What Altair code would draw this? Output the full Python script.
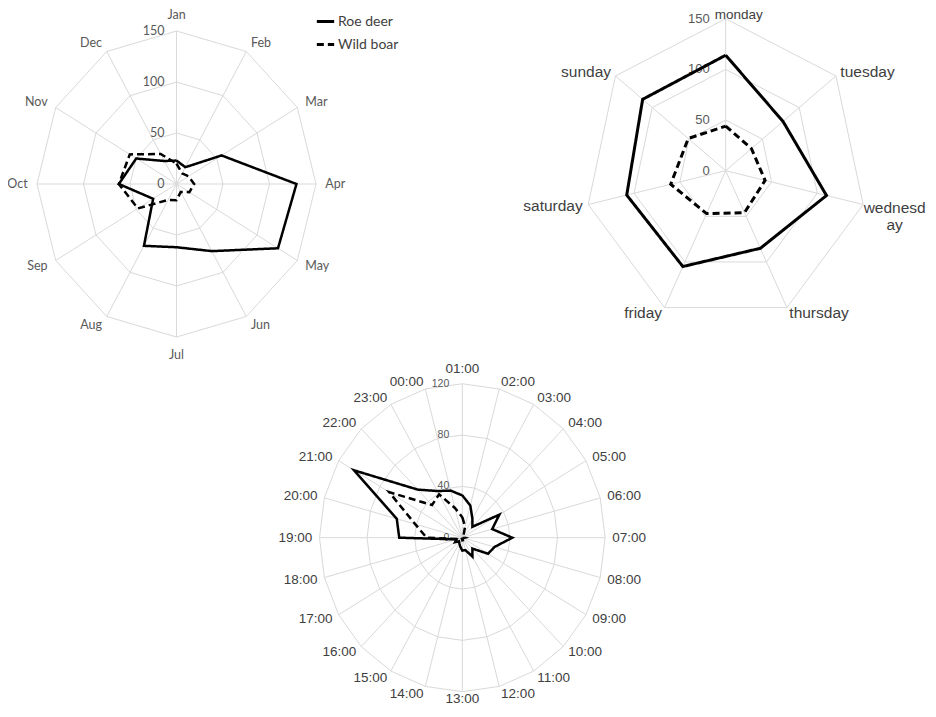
import altair as alt
import pandas as pd

# ---------------- data ----------------
SERIES = ["Roe deer", "Wild boar"]

MONTHS = ["Jan", "Feb", "Mar", "Apr", "May", "Jun", "Jul", "Aug", "Sep", "Oct", "Nov", "Dec"]
MONTH_ROE = [23, 19, 56, 129, 126, 76, 62, 70, 29, 62, 50, 26]
MONTH_BOAR = [20, 12, 15, 19, 16, 9, 16, 18, 48, 62, 58, 34]
MONTH_TICKS = [0, 50, 100, 150]

DAYS = ["monday", "tuesday", "wednesd\nay", "thursday", "friday", "saturday", "sunday"]
DAY_ROE = [114, 78, 110, 85, 105, 108, 113]
DAY_BOAR = [44, 35, 43, 46, 47, 60, 51]
DAY_TICKS = [0, 50, 100, 150]

HOURS = ["01:00", "02:00", "03:00", "04:00", "05:00", "06:00", "07:00", "08:00",
         "09:00", "10:00", "11:00", "12:00", "13:00", "14:00", "15:00", "16:00",
         "17:00", "18:00", "19:00", "20:00", "21:00", "22:00", "23:00", "00:00"]
HOUR_ROE = [33, 26, 17, 12, 36, 26, 42, 28, 25, 12, 17, 10,
            10, 7, 5, 4, 7, 5, 53, 57, 105, 53, 42, 38]
HOUR_BOAR = [16, 9, 2, 1, 1, 1, 2, 1, 1, 1, 1, 2,
             2, 1, 1, 2, 3, 4, 30, 41, 71, 36, 39, 24]
HOUR_TICKS = [0, 40, 80, 120]

# ---------------- helpers ----------------
W, H = 920, 701
XS = alt.Scale(domain=[8, 8 + W], nice=False, zero=False)
YS = alt.Scale(domain=[8, 8 + H], nice=False, zero=False, reverse=True)


def X(f):
    return alt.X(f"{f}:Q", scale=XS, axis=None)


def Y(f):
    return alt.Y(f"{f}:Q", scale=YS, axis=None)


LEGEND = alt.Legend(
    title=None, orient="none", legendX=307, legendY=3,
    symbolType="stroke", symbolSize=300, symbolStrokeWidth=2.8,
    symbolStrokeColor="black", labelFont="Lato", labelFontSize=14,
    labelColor="#404040", labelOffset=2, rowPadding=5, padding=0,
)
DASH = alt.StrokeDash(
    "series:N",
    scale=alt.Scale(domain=SERIES, range=[[1, 0], [7, 4]]),
    legend=LEGEND,
)


def series_table(cats, roe, boar):
    n = len(cats)
    rows = []
    for name, vals in zip(SERIES, (roe, boar)):
        for i in range(n + 1):
            rows.append({"series": name, "idx": i, "n": n, "value": vals[i % n]})
    return pd.DataFrame(rows)


def ring_table(n, ticks):
    return pd.DataFrame([{"ring": t, "idx": i, "n": n, "value": t}
                         for t in ticks[1:] for i in range(n + 1)])


def spoke_table(n, ticks):
    return pd.DataFrame([{"idx": i, "n": n, "value": ticks[-1]} for i in range(n)])


def label_table(cats):
    return pd.DataFrame([{"idx": i, "n": len(cats), "label": c} for i, c in enumerate(cats)])


def tick_table(ticks):
    return pd.DataFrame([{"value": t, "label": str(t)} for t in ticks])


def polar(ch, cx, cy, rx, ry, r="datum.value"):
    return ch.transform_calculate(
        ang="2*PI*datum.idx/datum.n"
    ).transform_calculate(
        x=f"{cx} + {rx}*({r})*sin(datum.ang)",
        y=f"{cy} - {ry}*({r})*cos(datum.ang)",
        s="sin(datum.ang)", c="cos(datum.ang)",
    )


def panel(cats, roe, boar, ticks, cx, cy, rx, ry, R, font, fsize, fcolor,
          tfont, tsize, tdx, lw, top_dy, bottom_dy, multi_dx=28,
          top_dx=0, top_size=None):
    n = len(cats)
    grid_color = "#d9d9d9"

    rings = polar(alt.Chart(ring_table(n, ticks)), cx, cy, rx, ry).mark_line(
        color=grid_color, strokeWidth=1
    ).encode(x=X("x"), y=Y("y"), detail="ring:N", order="idx:Q")

    spokes = polar(alt.Chart(spoke_table(n, ticks)), cx, cy, rx, ry).transform_calculate(
        x0=f"{cx}", y0=f"{cy}"
    ).mark_rule(color=grid_color, strokeWidth=1).encode(
        x=X("x0"), y=Y("y0"), x2="x:Q", y2="y:Q"
    )

    ticks_txt = alt.Chart(tick_table(ticks)).transform_calculate(
        x=f"{cx}", y=f"{cy} - {ry}*datum.value"
    ).mark_text(align="right", baseline="middle", dx=tdx, font=tfont,
                fontSize=tsize, color="#595959").encode(
        x=X("x"), y=Y("y"), text="label:N")

    base_lab = polar(alt.Chart(label_table(cats)), cx, cy, rx, ry, r=str(R))
    common = dict(font=font, fontSize=fsize, color=fcolor, lineBreak="\n")
    lab_left = base_lab.transform_filter(
        "datum.s > 0.01 && indexof(datum.label, '\\n') < 0"
    ).mark_text(align="left", baseline="middle", **common).encode(
        x=X("x"), y=Y("y"), text="label:N")
    lab_multi = base_lab.transform_filter(
        "datum.s > 0.01 && indexof(datum.label, '\\n') >= 0"
    ).mark_text(align="center", baseline="middle", dx=multi_dx, dy=2, **common).encode(
        x=X("x"), y=Y("y"), text="label:N")
    lab_right = base_lab.transform_filter("datum.s < -0.01").mark_text(
        align="right", baseline="middle", **common).encode(
        x=X("x"), y=Y("y"), text="label:N")
    top_common = dict(common)
    if top_size is not None:
        top_common["fontSize"] = top_size
    lab_top = base_lab.transform_filter("abs(datum.s) <= 0.01 && datum.c > 0").mark_text(
        align="center", baseline="middle", dx=top_dx, dy=top_dy, **top_common).encode(
        x=X("x"), y=Y("y"), text="label:N")
    lab_bot = base_lab.transform_filter("abs(datum.s) <= 0.01 && datum.c < 0").mark_text(
        align="center", baseline="middle", dy=bottom_dy, **common).encode(
        x=X("x"), y=Y("y"), text="label:N")

    lines = polar(alt.Chart(series_table(cats, roe, boar)), cx, cy, rx, ry).mark_line(
        color="black", strokeWidth=lw, strokeJoin="miter"
    ).encode(x=X("x"), y=Y("y"), detail="series:N", order="idx:Q", strokeDash=DASH)

    return [rings, spokes, ticks_txt, lab_left, lab_multi, lab_right, lab_top, lab_bot, lines]


layers = []
layers += panel(MONTHS, MONTH_ROE, MONTH_BOAR, MONTH_TICKS,
                cx=176.5, cy=184, rx=0.93, ry=1.02, R=160,
                font="Lato", fsize=12.5, fcolor="#595959",
                tfont="Lato", tsize=12.5, tdx=-12, lw=2.5, top_dy=-6, bottom_dy=8)
layers += panel(DAYS, DAY_ROE, DAY_BOAR, DAY_TICKS,
                cx=725.7, cy=170.7, rx=0.94, ry=1.013, R=156,
                font="Liberation Sans", fsize=15.5, fcolor="#404040",
                tfont="Liberation Sans", tsize=13, tdx=-16, lw=3, top_dy=2, bottom_dy=0,
                multi_dx=26, top_dx=13, top_size=13.5)
layers += panel(HOURS, HOUR_ROE, HOUR_BOAR, HOUR_TICKS,
                cx=462.3, cy=537.7, rx=1.19, ry=1.283, R=126,
                font="Liberation Sans", fsize=13.5, fcolor="#404040",
                tfont="Liberation Sans", tsize=10.5, tdx=-13, lw=2.5, top_dy=-7, bottom_dy=0)

chart = alt.layer(*layers).properties(
    width=W, height=H, padding=0,
    autosize=alt.AutoSizeParams(type="none"),
    background="white",
).configure_view(stroke=None)

chart.save("out.html", embed_options={"renderer": "svg", "actions": False})
